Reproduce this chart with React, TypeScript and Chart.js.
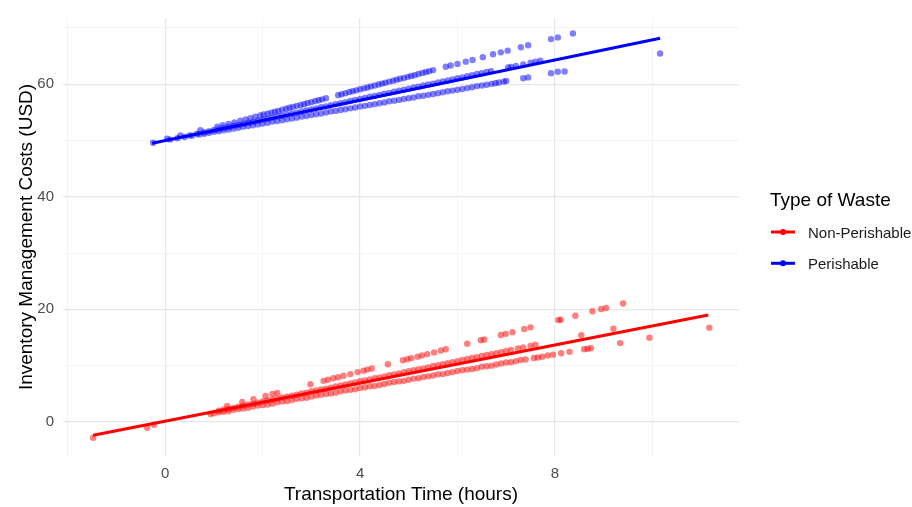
import React, { useEffect, useRef } from "react";
import { Chart, registerables } from "chart.js";

Chart.register(...registerables);

const FONT = '"Liberation Sans", Arial, Helvetica, sans-serif';

const xGridValues = [-2, 0, 2, 4, 6, 8, 10];
const xTickLabels = ["", "0", "", "4", "", "8", ""];
const yGridValues = [0, 10, 20, 30, 40, 50, 60, 70];
const yTickLabels = ["0", "", "20", "", "40", "", "60", ""];

const xTitle = "Transportation Time (hours)";
const yTitle = "Inventory Management Costs (USD)";
const legendTitle = "Type of Waste";
const seriesNames = ["Non-Perishable", "Perishable"];
const seriesColors = ["#FF0000", "#0000FF"];
const pointColors = ["rgba(255,0,0,0.5)", "rgba(0,0,255,0.5)"];

// Non-Perishable observations (start, lower band, middle band, upper band)
const nonPerishableX = [
  -1.48, -0.37, -0.23, 0.93,
  1.0, 1.2, 1.4, 1.6, 1.8, 2.0, 2.2, 2.4, 2.6, 2.8, 3.0, 3.1, 3.3, 3.5, 3.6, 3.8, 4.0, 4.1, 4.3, 4.5, 4.6,
  4.8, 5.0, 5.2, 5.3, 5.5, 5.7, 5.9, 6.0, 6.2, 6.4, 6.6, 6.8, 7.0, 7.2, 7.4, 7.57, 7.74, 7.96, 8.13, 8.3,
  8.6, 8.67, 8.74, 9.34, 9.94, 11.17,
  1.1, 1.3, 1.5, 1.7, 1.9, 2.1, 2.3, 2.5, 2.7, 2.9, 3.0, 3.2, 3.4, 3.5, 3.7, 3.9, 4.0, 4.2, 4.4, 4.5,
  4.7, 4.9, 5.0, 5.2, 5.4, 5.6, 5.8, 6.0, 6.1, 6.3, 6.5, 6.7, 6.9, 7.1, 7.24, 7.5, 7.6, 8.54, 9.2,
  1.27, 1.58, 1.81, 2.06, 2.2, 2.3, 2.98, 3.25, 3.34, 3.66, 3.8, 3.95, 4.07, 4.24, 4.57, 4.88, 4.97,
  5.18, 5.38, 5.52, 5.66, 5.76, 6.2, 6.48, 6.55, 6.89, 6.99, 7.13, 7.37, 7.5, 8.07, 8.12, 8.42, 8.77,
  8.95, 9.05, 9.4,
];
const nonPerishableY = [
  -2.8, -1.05, -0.5, 1.4,
  1.55, 1.8, 2.15, 2.4, 2.75, 3.0, 3.25, 3.65, 3.9, 4.2, 4.5, 4.7, 4.95, 5.2, 5.45, 5.7, 6.05, 6.15, 6.4, 6.75, 6.95,
  7.2, 7.5, 7.75, 8.0, 8.25, 8.5, 8.85, 9.05, 9.3, 9.55, 9.9, 10.2, 10.55, 10.8, 11.1, 11.35, 11.6, 11.95, 12.2, 12.45,
  12.9, 13.0, 13.1, 14.0, 14.95, 16.75,
  2.0, 2.3, 2.7, 3.1, 3.4, 3.8, 4.15, 4.5, 4.85, 5.2, 5.45, 5.75, 6.1, 6.3, 6.65, 7.0, 7.25, 7.55, 7.9, 8.1,
  8.45, 8.85, 9.0, 9.35, 9.7, 10.1, 10.45, 10.8, 11.0, 11.35, 11.7, 12.05, 12.4, 12.8, 13.05, 13.5, 13.7, 15.4, 16.55,
  2.85, 3.55, 4.05, 4.6, 4.95, 5.15, 6.7, 7.3, 7.5, 8.2, 8.5, 8.85, 9.1, 9.5, 10.25, 10.95, 11.15,
  11.6, 12.05, 12.35, 12.7, 12.9, 13.9, 14.5, 14.65, 15.45, 15.65, 15.95, 16.5, 16.8, 18.1, 18.15, 18.85, 19.65,
  20.05, 20.25, 21.05,
];
// more Non-Perishable observations in the dense part (lower, middle, upper bands)
const nonPerishableMoreX = [
  1.1, 1.3, 1.5, 1.7, 1.9, 2.1, 2.3, 2.5, 2.7, 2.9, 3.2, 3.4, 3.7, 3.9, 4.2, 4.4, 4.7, 4.9, 5.1, 5.4,
  5.6, 5.8, 6.1, 6.3, 6.5, 6.7, 6.9, 7.1, 7.3, 7.65, 7.85,
  1.2, 1.4, 1.6, 1.8, 2.0, 2.2, 2.4, 2.6, 2.8, 3.1, 3.3, 3.6, 3.8, 4.1, 4.3, 4.6, 4.8, 5.1, 5.3, 5.5,
  5.7, 5.9, 6.2, 6.4, 6.6, 6.8, 7.0, 7.35,
  3.45, 3.55, 4.15, 5.05, 5.27,
];
const nonPerishableMoreY = [
  1.7, 1.9, 2.3, 2.5, 2.9, 3.1, 3.5, 3.7, 4.1, 4.3, 4.85, 5.05, 5.6, 5.8, 6.35, 6.55, 7.1, 7.3, 7.7, 8.1,
  8.45, 8.7, 9.2, 9.4, 9.8, 10.0, 10.4, 10.6, 11.0, 11.45, 11.8,
  2.2, 2.5, 2.9, 3.2, 3.65, 3.95, 4.35, 4.65, 5.05, 5.6, 5.9, 6.5, 6.85, 7.35, 7.75, 8.3, 8.6, 9.2, 9.5, 9.95,
  10.25, 10.6, 11.2, 11.5, 11.9, 12.2, 12.6, 13.25,
  7.75, 7.95, 9.3, 11.3, 11.8,
];

// Perishable observations (start, lower band, middle band, upper band)
const perishableX = [
  -0.25, 0.04, 0.31, 0.72,
  0.1, 0.4, 0.7, 0.9, 1.1, 1.3, 1.5, 1.7, 1.9, 2.1, 2.3, 2.5, 2.7, 2.9, 3.1, 3.3, 3.5, 3.7, 3.9, 4.1,
  4.3, 4.5, 4.7, 4.9, 5.1, 5.3, 5.5, 5.7, 5.9, 6.1, 6.3, 6.5, 6.7, 6.85, 7.0, 7.35, 7.45, 7.92, 8.06, 8.2, 10.16,
  0.5, 0.8, 1.0, 1.2, 1.4, 1.6, 1.8, 2.0, 2.2, 2.4, 2.6, 2.8, 3.0, 3.2, 3.4, 3.6, 3.8, 4.0, 4.2, 4.4,
  4.6, 4.8, 5.0, 5.2, 5.4, 5.6, 5.8, 6.0, 6.2, 6.4, 6.6, 6.69, 7.04, 7.2, 7.5, 7.6, 7.7,
  1.07, 1.3, 1.54, 1.75, 1.95, 2.1, 2.25, 2.4, 2.55, 2.7, 2.85, 3.0, 3.15, 3.3, 3.55, 3.7, 3.85, 4.0, 4.15, 4.3,
  4.45, 4.6, 4.75, 4.9, 5.05, 5.2, 5.35, 5.5, 5.76, 5.86, 6.0, 6.17, 6.31, 6.52, 6.73, 6.89, 7.03, 7.3, 7.45, 7.92,
  8.06, 8.37,
];
const perishableY = [
  49.6, 50.3, 50.9, 51.8,
  50.15, 50.6, 51.05, 51.35, 51.65, 51.95, 52.25, 52.55, 52.85, 53.15, 53.45, 53.75, 54.05, 54.35, 54.65, 54.95, 55.25, 55.55, 55.85, 56.15,
  56.45, 56.75, 57.05, 57.35, 57.65, 57.95, 58.25, 58.55, 58.85, 59.15, 59.45, 59.75, 60.05, 60.28, 60.55, 61.05, 61.2, 61.95, 62.2, 62.25, 65.45,
  50.9, 51.45, 51.85, 52.2, 52.6, 52.95, 53.3, 53.7, 54.05, 54.4, 54.8, 55.15, 55.5, 55.9, 56.25, 56.6, 57.0, 57.35, 57.75, 58.1,
  58.45, 58.85, 59.2, 59.55, 59.95, 60.3, 60.65, 61.05, 61.4, 61.8, 62.15, 62.3, 62.95, 63.25, 63.8, 64.0, 64.15,
  52.45, 52.95, 53.5, 53.95, 54.45, 54.75, 55.1, 55.45, 55.8, 56.15, 56.45, 56.8, 57.15, 57.5, 58.05, 58.4, 58.75, 59.1, 59.4, 59.75,
  60.1, 60.45, 60.8, 61.1, 61.45, 61.8, 62.15, 62.5, 63.1, 63.3, 63.6, 64.0, 64.3, 64.8, 65.3, 65.65, 65.95, 66.55, 66.9, 68.0,
  68.3, 69.0,
];
// more Perishable observations in the dense part (lower, middle, upper bands)
const perishableMoreX = [
  0.25, 0.55, 0.8, 1.0, 1.2, 1.4, 1.6, 1.8, 2.0, 2.2, 2.4, 2.6, 2.8, 3.0, 3.2, 3.4, 3.6, 3.8, 4.0, 4.2,
  4.4, 4.6, 4.8, 5.0, 5.2, 5.4, 5.6, 5.8, 6.0, 6.2, 6.4, 6.6, 6.78, 6.95,
  0.65, 0.9, 1.1, 1.3, 1.5, 1.7, 1.9, 2.1, 2.3, 2.5, 2.7, 2.9, 3.1, 3.3, 3.5, 3.7, 3.9, 4.1, 4.3, 4.5,
  4.7, 4.9, 5.1, 5.3, 5.5, 5.7, 5.9, 6.1, 6.3, 6.5, 7.1, 7.35,
  1.18, 1.42, 1.65, 1.85, 2.02, 2.18, 2.32, 2.48, 2.62, 2.78, 2.92, 3.08, 3.22, 3.62, 3.78, 3.92, 4.08, 4.22,
  4.38, 4.52, 4.68, 4.82, 4.98, 5.12, 5.28, 5.42,
];
const perishableMoreY = [
  50.4, 50.85, 51.2, 51.55, 51.8, 52.1, 52.45, 52.7, 53.0, 53.35, 53.6, 53.9, 54.25, 54.5, 54.8, 55.15, 55.4, 55.7, 56.05, 56.3,
  56.6, 56.95, 57.2, 57.5, 57.85, 58.1, 58.4, 58.75, 59.0, 59.3, 59.65, 59.9, 60.15, 60.45,
  51.2, 51.65, 52.0, 52.4, 52.75, 53.15, 53.5, 53.85, 54.25, 54.6, 54.95, 55.35, 55.7, 56.05, 56.45, 56.8, 57.2, 57.55, 57.9, 58.3,
  58.65, 59.0, 59.4, 59.75, 60.1, 60.5, 60.85, 61.2, 61.6, 61.95, 63.05, 63.5,
  52.7, 53.2, 53.75, 54.2, 54.6, 54.95, 55.25, 55.65, 55.95, 56.3, 56.65, 57.0, 57.3, 58.2, 58.6, 58.9, 59.25, 59.6,
  59.95, 60.25, 60.6, 60.95, 61.3, 61.6, 62.0, 62.3,
];

// Linear fit end points
const nonPerishableFitX = [-1.48, 11.15];
const nonPerishableFitY = [-2.35, 19.0];
const perishableFitX = [-0.27, 10.16];
const perishableFitY = [49.5, 68.15];

const toPoints = (xs: number[], ys: number[]) => xs.map((x, i) => ({ x, y: ys[i] }));

const legendPlugin = {
  id: "sideLegend",
  afterDraw(chart: any) {
    const ctx = chart.ctx;
    ctx.save();
    ctx.fillStyle = "#000000";
    ctx.font = `19px ${FONT}`;
    ctx.textAlign = "left";
    ctx.textBaseline = "alphabetic";
    ctx.fillText(legendTitle, 770, 205.5);
    seriesNames.forEach((name, i) => {
      const y = 232 + i * 31.3;
      ctx.strokeStyle = seriesColors[i];
      ctx.lineWidth = 3;
      ctx.beginPath();
      ctx.moveTo(771, y);
      ctx.lineTo(795, y);
      ctx.stroke();
      ctx.fillStyle = seriesColors[i];
      ctx.beginPath();
      ctx.arc(783, y, 3, 0, Math.PI * 2);
      ctx.fill();
      ctx.fillStyle = "#1a1a1a";
      ctx.font = `15px ${FONT}`;
      ctx.fillText(name, 808, y + 6);
    });
    ctx.restore();
  },
};

export default function App() {
  const canvasRef = useRef<HTMLCanvasElement | null>(null);

  useEffect(() => {
    if (!canvasRef.current) return;
    const chart = new Chart(canvasRef.current, {
      type: "scatter",
      data: {
        datasets: [
          {
            type: "line",
            label: seriesNames[0] + " fit",
            data: toPoints(nonPerishableFitX, nonPerishableFitY),
            borderColor: seriesColors[0],
            borderWidth: 3,
            pointRadius: 0,
            showLine: true,
            fill: false,
            order: 0,
          } as any,
          {
            type: "line",
            label: seriesNames[1] + " fit",
            data: toPoints(perishableFitX, perishableFitY),
            borderColor: seriesColors[1],
            borderWidth: 3,
            pointRadius: 0,
            showLine: true,
            fill: false,
            order: 0,
          } as any,
          {
            label: seriesNames[0],
            data: toPoints(nonPerishableX, nonPerishableY).concat(toPoints(nonPerishableMoreX, nonPerishableMoreY)),
            backgroundColor: pointColors[0],
            borderWidth: 0,
            pointRadius: 3.2,
            order: 1,
          },
          {
            label: seriesNames[1],
            data: toPoints(perishableX, perishableY).concat(toPoints(perishableMoreX, perishableMoreY)),
            backgroundColor: pointColors[1],
            borderWidth: 0,
            pointRadius: 3.2,
            order: 1,
          },
        ],
      },
      options: {
        animation: false,
        responsive: false,
        devicePixelRatio: 1,
        layout: { padding: { left: 0, right: 173, top: 12, bottom: 0 } },
        plugins: {
          legend: { display: false },
          tooltip: { enabled: false },
        },
        scales: {
          x: {
            type: "linear",
            min: -2.1,
            max: 11.78,
            afterBuildTicks: (scale: any) => {
              scale.ticks = xGridValues.map((v) => ({ value: v }));
            },
            afterFit: (scale: any) => {
              scale.height = 51;
            },
            border: { display: false },
            grid: {
              drawTicks: false,
              color: (c: any) => (c.tick && c.tick.value % 4 === 0 ? "#e6e6e6" : "#f1f1f1"),
              lineWidth: (c: any) => (c.tick && c.tick.value % 4 === 0 ? 1.2 : 0.8),
            },
            ticks: {
              padding: 9,
              color: "#4d4d4d",
              font: { family: FONT, size: 15 },
              maxRotation: 0,
              autoSkip: false,
              callback: (_v: any, i: number) => xTickLabels[i],
            },
            title: {
              display: true,
              text: xTitle,
              color: "#000000",
              font: { family: FONT, size: 19 },
              padding: { top: 0, bottom: 1 },
            },
          },
          y: {
            type: "linear",
            min: -6.05,
            max: 71.75,
            afterBuildTicks: (scale: any) => {
              scale.ticks = yGridValues.map((v) => ({ value: v }));
            },
            afterFit: (scale: any) => {
              scale.width = 63;
            },
            border: { display: false },
            grid: {
              drawTicks: false,
              color: (c: any) => (c.tick && c.tick.value % 20 === 0 ? "#e6e6e6" : "#f1f1f1"),
              lineWidth: (c: any) => (c.tick && c.tick.value % 20 === 0 ? 1.2 : 0.8),
            },
            ticks: {
              padding: 9,
              color: "#4d4d4d",
              font: { family: FONT, size: 15 },
              autoSkip: false,
              callback: (_v: any, i: number) => yTickLabels[i],
            },
            title: {
              display: true,
              text: yTitle,
              color: "#000000",
              font: { family: FONT, size: 19 },
              padding: { top: 15, bottom: 0 },
            },
          },
        },
      },
      plugins: [legendPlugin],
    } as any);
    return () => chart.destroy();
  }, []);

  return (
    <div style={{ position: "absolute", left: 0, top: 0, width: 912, height: 507, background: "#ffffff" }}>
      <canvas ref={canvasRef} width={912} height={507} />
    </div>
  );
}
